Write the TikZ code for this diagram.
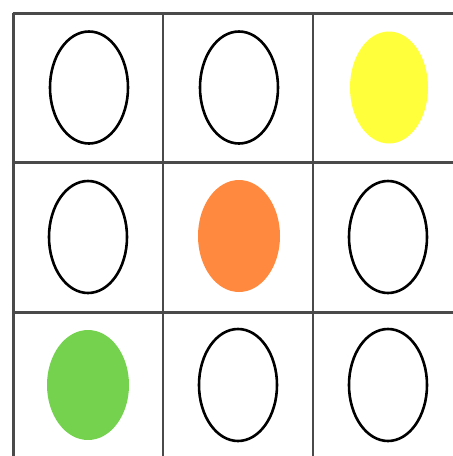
\documentclass[tikz,border=0pt]{standalone}
\usetikzlibrary{shapes.geometric}
\definecolor{gridgray}{HTML}{4A4A4A}
\definecolor{eyellow}{HTML}{FFFF3C}
\definecolor{eorange}{HTML}{FF8A3F}
\definecolor{egreen}{HTML}{74D24E}
\tikzset{
  gridline/.style={draw=gridgray, line width=2.2pt},
  ell/.style={ellipse, minimum width=78pt, minimum height=112pt, inner sep=0pt},
  ellempty/.style={ell, draw=black, line width=2.6pt, fill=white},
  ellfill/.style={ell, draw=none},
}
\begin{document}
\begin{tikzpicture}[x=1pt,y=-1pt]
\useasboundingbox (0,0) rectangle (453,456);
\fill[white] (0,0) rectangle (453,456);
\begin{scope}
\clip (0,0) rectangle (453,456);
% grid
\foreach \y in {13.5,162.5,312.5} \draw[gridline] (12.5,\y) -- (460,\y);
\foreach \x in {13.5,163,313} \draw[gridline] (\x,12.5) -- (\x,460);
\end{scope}
% row 1
\node[ellempty] (c11) at (89,87.5) {};
\node[ellempty] (c12) at (239,87.5) {};
\node[ellfill, fill=eyellow] (c13) at (389,87.5) {};
% row 2
\node[ellempty] (c21) at (88,237) {};
\node[ellfill, fill=eorange, minimum width=82pt] (c22) at (239,236) {};
\node[ellempty] (c23) at (388,237) {};
% row 3
\node[ellfill, fill=egreen, minimum width=82pt, minimum height=110pt] (c31) at (88,385) {};
\node[ellempty] (c32) at (238,385) {};
\node[ellempty] (c33) at (388,385) {};
\end{tikzpicture}
\end{document}
